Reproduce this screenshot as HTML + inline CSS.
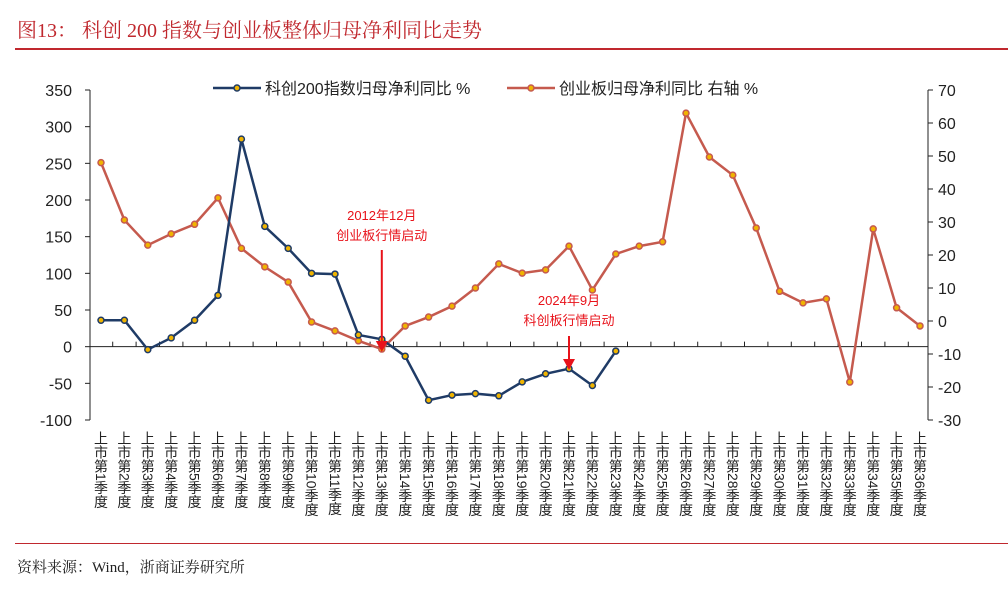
<!DOCTYPE html>
<html><head><meta charset="utf-8"><style>
body{margin:0;background:#fff;width:1008px;height:595px;overflow:hidden;font-family:"Liberation Sans","Noto Sans CJK SC",sans-serif;}
.title{position:absolute;left:17px;top:14px;font-family:"Liberation Serif","Noto Serif CJK SC",serif;font-size:20px;color:#c0282e;}
.xl{position:absolute;top:431px;writing-mode:vertical-rl;font-size:14px;line-height:14px;color:#222;}
</style></head><body>
<div class="title">图13：&nbsp;科创 200 指数与创业板整体归母净利同比走势</div>
<div style="position:absolute;left:15px;top:48px;width:993px;height:2px;background:#c0282e"></div>
<div style="position:absolute;left:15px;top:543px;width:993px;height:1px;background:#c0282e"></div>
<div style="position:absolute;left:17px;top:556px;font-family:'Liberation Serif','Noto Serif CJK SC',serif;font-size:15px;color:#222">资料来源：Wind，浙商证券研究所</div>
<div id="xlabels"></div>
<svg id="chart" width="1008" height="595" style="position:absolute;left:0;top:0"></svg>
<script>
const categories=[];for(let i=1;i<=36;i++)categories.push('上市第'+i+'季度');
const kcValues=[36,36,-4,12,36,70,283,164,134,100,99,16,10,-13,-73,-66,-64,-67,-48,-37,-30,-53,-6];
const cybValues=[48,30.6,23,26.4,29.3,37.3,22,16.4,11.8,-0.3,-3,-6,-8.5,-1.5,1.2,4.5,10,17.3,14.5,15.5,22.7,9.4,20.3,22.7,24,63,49.7,44.2,28.2,9,5.5,6.7,-18.5,27.9,4,-1.5];
const leftTicks=[350,300,250,200,150,100,50,0,-50,-100];
const rightTicks=[70,60,50,40,30,20,10,0,-10,-20,-30];
const X0=90,X1=928,Y0=90,Y1=420;
const bw=23.4, XS=89.3;
const xs=i=>XS+(i+0.5)*bw;
const yl=v=>Y0+(350-v)*(Y1-Y0)/450;
const yr=v=>Y0+(70-v)*(Y1-Y0)/100;
const svg=document.getElementById('chart');const NS='http://www.w3.org/2000/svg';
function mk(t,a,p){const e=document.createElementNS(NS,t);for(const k in a)e.setAttribute(k,a[k]);(p||svg).appendChild(e);return e;}
let e;
e=mk('line',{x1:X0,y1:Y0,x2:X0,y2:Y1,stroke:'#222','stroke-width':1});


e=mk('line',{x1:X1,y1:Y0,x2:X1,y2:Y1,stroke:'#222','stroke-width':1});


e=mk('line',{x1:X0,y1:yl(0),x2:X1,y2:yl(0),stroke:'#222','stroke-width':1});


for(let i=1;i<categories.length;i++){mk('line',{x1:XS+i*bw,y1:yl(0)-5,x2:XS+i*bw,y2:yl(0),stroke:'#222'});}
leftTicks.forEach(v=>{mk('line',{x1:X0-5,y1:yl(v),x2:X0,y2:yl(v),stroke:'#222'});
e=mk('text',{x:X0-18,y:yl(v)+6,'text-anchor':'end','font-size':16,fill:'#222'});e.textContent=v;

});
rightTicks.forEach(v=>{mk('line',{x1:X1,y1:yr(v),x2:X1+5,y2:yr(v),stroke:'#222'});
e=mk('text',{x:X1+10,y:yr(v)+6,'font-size':16,fill:'#222'});e.textContent=v;

});
function series(vals,yf,col,name){
 const pts=vals.map((v,i)=>xs(i)+','+yf(v)).join(' ');
 e=mk('polyline',{points:pts,fill:'none',stroke:col,'stroke-width':2.5});
 
 
 vals.forEach((v,i)=>{e=mk('circle',{cx:xs(i),cy:yf(v),r:3,fill:'#f0b400',stroke:col,'stroke-width':1.5});
 
 });
}
series(cybValues,yr,'#c55a4e','cyb');
series(kcValues,yl,'#1f3b66','kc200');
function leg(x,col,txt,name){const g=mk('g',{});
 
 
 mk('line',{x1:x,y1:88,x2:x+48,y2:88,stroke:col,'stroke-width':2.5},g);
 mk('circle',{cx:x+24,cy:88,r:3,fill:'#f0b400',stroke:col,'stroke-width':1.5},g);
 const t=mk('text',{x:x+52,y:94,'font-size':16,fill:'#222'},g);t.textContent=txt;}
leg(213,'#1f3b66','科创200指数归母净利同比 %','legend-kc200');
leg(507,'#c55a4e','创业板归母净利同比 右轴 %','legend-cyb');
function ann(i,y1,y2,l1,l2,ty,name){const g=mk('g',{});
 
 
 const x=xs(i);
 mk('line',{x1:x,y1:y1,x2:x,y2:y2-8,stroke:'#e8121a','stroke-width':2},g);
 mk('polygon',{points:(x-6)+','+(y2-11)+' '+(x+6)+','+(y2-11)+' '+x+','+y2,fill:'#e8121a'},g);
 let t=mk('text',{x:x,y:ty,'text-anchor':'middle','font-size':13,fill:'#e8121a'},g);t.textContent=l1;
 t=mk('text',{x:x,y:ty+20,'text-anchor':'middle','font-size':13,fill:'#e8121a'},g);t.textContent=l2;}
ann(12,250,352,'2012年12月','创业板行情启动',220,'annotation-cyb-start');
ann(20,336,370,'2024年9月','科创板行情启动',305,'annotation-kc-start');
const xl=document.getElementById('xlabels');
categories.forEach((c,i)=>{const d=document.createElement('div');d.className='xl';
 
 
 d.style.left=(xs(i)-7)+'px';d.textContent=c;xl.appendChild(d);});
</script>
</body></html>
